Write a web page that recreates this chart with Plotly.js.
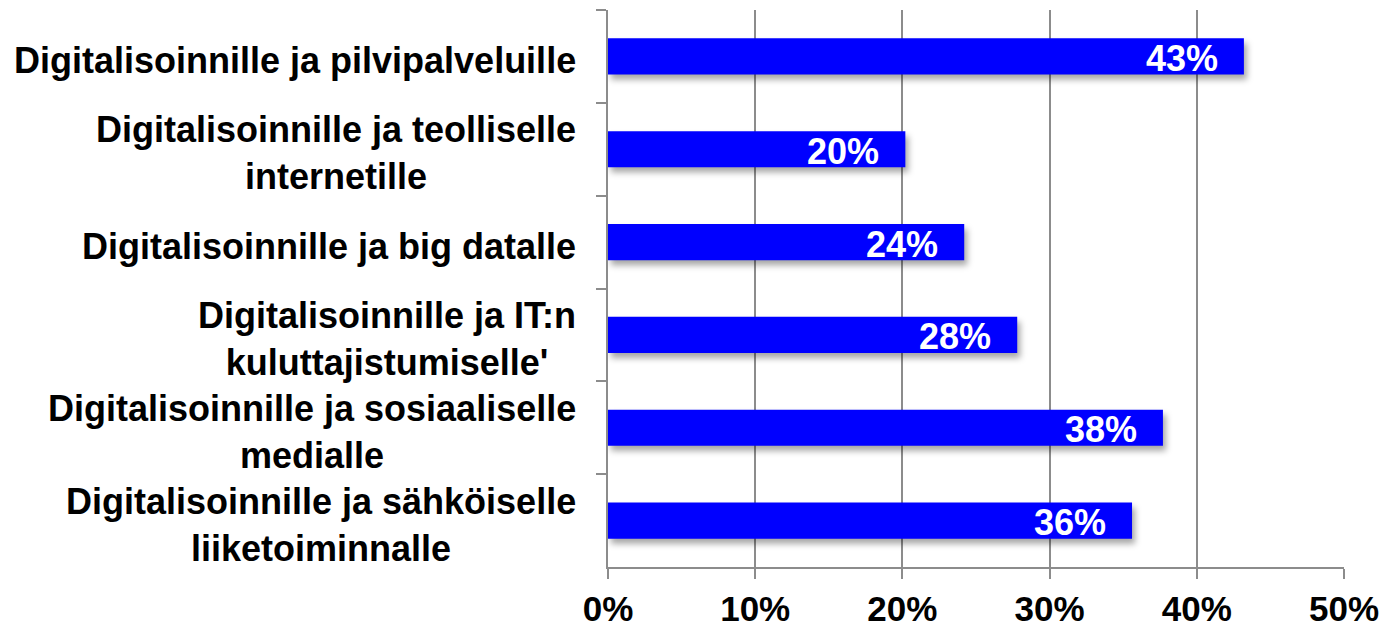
<!DOCTYPE html>
<html>
<head>
<meta charset="utf-8">
<script src="https://cdn.plot.ly/plotly-3.0.1.min.js"></script>
<style>
html,body{margin:0;padding:0;background:#fff;}
#chart{width:1383px;height:630px;}
.bars path{filter:drop-shadow(3px 5px 3px rgba(0,0,0,0.35));}
</style>
</head>
<body>
<div id="chart"></div>
<script>
const categories = [
  "Digitalisoinnille ja pilvipalveluille",
  "Digitalisoinnille ja teolliselle<br>internetille",
  "Digitalisoinnille ja big datalle",
  "Digitalisoinnille ja IT:n<br>kuluttajistumiselle'",
  "Digitalisoinnille ja sosiaaliselle<br>medialle",
  "Digitalisoinnille ja sähköiselle<br>liiketoiminnalle"
];
const values = [0.432, 0.202, 0.242, 0.278, 0.377, 0.356];
const valueLabels = ["43%", "20%", "24%", "28%", "38%", "36%"];
const xTickVals = [0, 0.1, 0.2, 0.3, 0.4, 0.5];
const xTickText = ["0%", "10%", "20%", "30%", "40%", "50%"];

const FONT = '"Liberation Sans", Arial, sans-serif';
const grid = '#8c8c8c';

const trace = {
  type: 'bar',
  orientation: 'h',
  y: categories,
  x: values,
  marker: {color: '#0000FF', line: {width: 0}},
  hoverinfo: 'none',
  textposition: 'none'
};

const annotations = [];
categories.forEach((c, i) => {
  annotations.push({
    xref: 'paper', yref: 'y', x: 0, y: c,
    xanchor: 'right', yanchor: 'middle', xshift: -30, yshift: -4,
    align: 'center', showarrow: false, text: c,
    font: {family: FONT, size: 36, color: '#000', weight: 'bold'}
  });
  annotations.push({
    xref: 'x', yref: 'y', x: values[i], y: c,
    xanchor: 'right', yanchor: 'middle', xshift: -24, yshift: -2,
    showarrow: false, text: valueLabels[i],
    font: {family: FONT, size: 36, color: '#fff', weight: 'bold'}
  });
});

const layout = {
  width: 1383, height: 630,
  margin: {l: 608, r: 39, t: 10, b: 63, pad: 0},
  paper_bgcolor: '#fff', plot_bgcolor: '#fff',
  showlegend: false,
  bargap: 0.61,
  xaxis: {
    range: [0, 0.5],
    tickvals: xTickVals, ticktext: xTickText,
    showgrid: true, gridcolor: grid, gridwidth: 2,
    zeroline: false,
    showline: true, linecolor: grid, linewidth: 2,
    ticks: 'outside', ticklen: 10, tickcolor: grid, tickwidth: 2,
    tickfont: {family: FONT, size: 35, color: '#000', weight: 'bold'},
    fixedrange: true
  },
  yaxis: {
    type: 'category',
    autorange: 'reversed',
    showticklabels: false,
    showline: true, linecolor: grid, linewidth: 2,
    ticks: 'outside', ticklen: 10, tickcolor: grid, tickwidth: 2,
    tickson: 'boundaries',
    showgrid: false, zeroline: false,
    fixedrange: true
  },
  annotations: annotations
};

Plotly.newPlot('chart', [trace], layout, {displayModeBar: false, staticPlot: true});
</script>
</body>
</html>
